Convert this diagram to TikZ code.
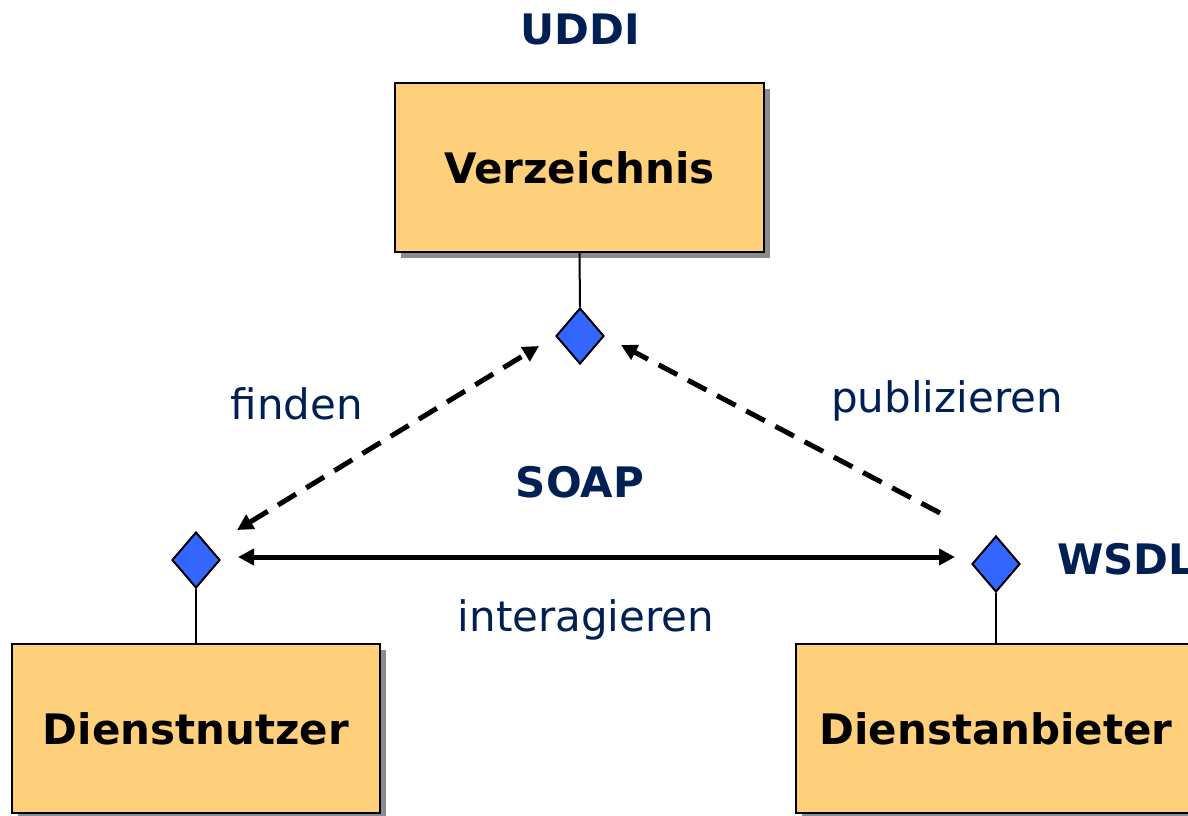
\documentclass[tikz,border=0pt]{standalone}
\usepackage{fontspec}
\setmainfont{DejaVu Sans}
\usetikzlibrary{shapes.geometric,arrows.meta,shadows,calc}
\definecolor{navy}{HTML}{002054}
\definecolor{boxfill}{HTML}{FFD07B}
\definecolor{dmdblue}{HTML}{3366FF}
\begin{document}
\begin{tikzpicture}[x=0.5pt,y=-0.5pt,
  >={Triangle[length=8pt,width=8pt]},
  every node/.style={font=\fontsize{21}{25}\selectfont},
  actor/.style={draw=black,line width=1.2pt,fill=boxfill,minimum height=84.5pt,
    font=\fontsize{21}{25}\selectfont\bfseries,
    drop shadow={shadow xshift=3pt,shadow yshift=-3pt,fill=black!45,opacity=1}},
  port/.style={diamond,draw=black,line width=1pt,fill=dmdblue,
    minimum width=24pt,minimum height=28pt,inner sep=0pt},
  tag/.style={text=navy,font=\fontsize{21}{25}\selectfont\bfseries},
  verb/.style={text=navy},
  link/.style={line width=1pt},
  flow/.style={line width=2.5pt},
  dashflow/.style={line width=2.5pt,dash pattern=on 10.5pt off 6pt}]

\path[use as bounding box,clip] (0,0) rectangle (1188,815);

% three roles
\node[actor,minimum width=184.5pt] (reg) at (579.5,167.5) {Verzeichnis};
\node[actor,minimum width=184pt]   (user) at (196,728.5) {Dienstnutzer};
\node[actor,minimum width=200pt]   (prov) at (996,728.5) {Dienstanbieter};

% interface ports
\node[port] (td) at (580,336) {};
\node[port] (ld) at (196,560) {};
\node[port] (rd) at (996,564) {};

\draw[link] (reg.south) -- (td.north);
\draw[link] (ld.south) -- (user.north);
\draw[link] (rd.south) -- (prov.north);

% interactions
\draw[dashflow,<->] ($(ld)+(41,-30)$) -- ($(td)+(-41,10)$);
\draw[dashflow,->] ($(rd)+(-56,-51)$) -- ($(td)+(41,9)$);
\draw[flow,<->] ($(ld.east)+(17,-3)$) -- ($(rd.west)+(-16,-7)$);

% labels
\node[tag,anchor=base] (uddi) at (580,44) {UDDI};
\node[tag,anchor=base] (soap) at (580,497) {SOAP};
\node[tag,anchor=base west,inner sep=0pt] (wsdl) at (1057,574) {WSDL};
\node[verb,anchor=base] (find) at (297,419) {finden};
\node[verb,anchor=base] (pub) at (947,412) {publizieren};
\node[verb,anchor=base] (inter) at (586,631) {interagieren};
\end{tikzpicture}
\end{document}
